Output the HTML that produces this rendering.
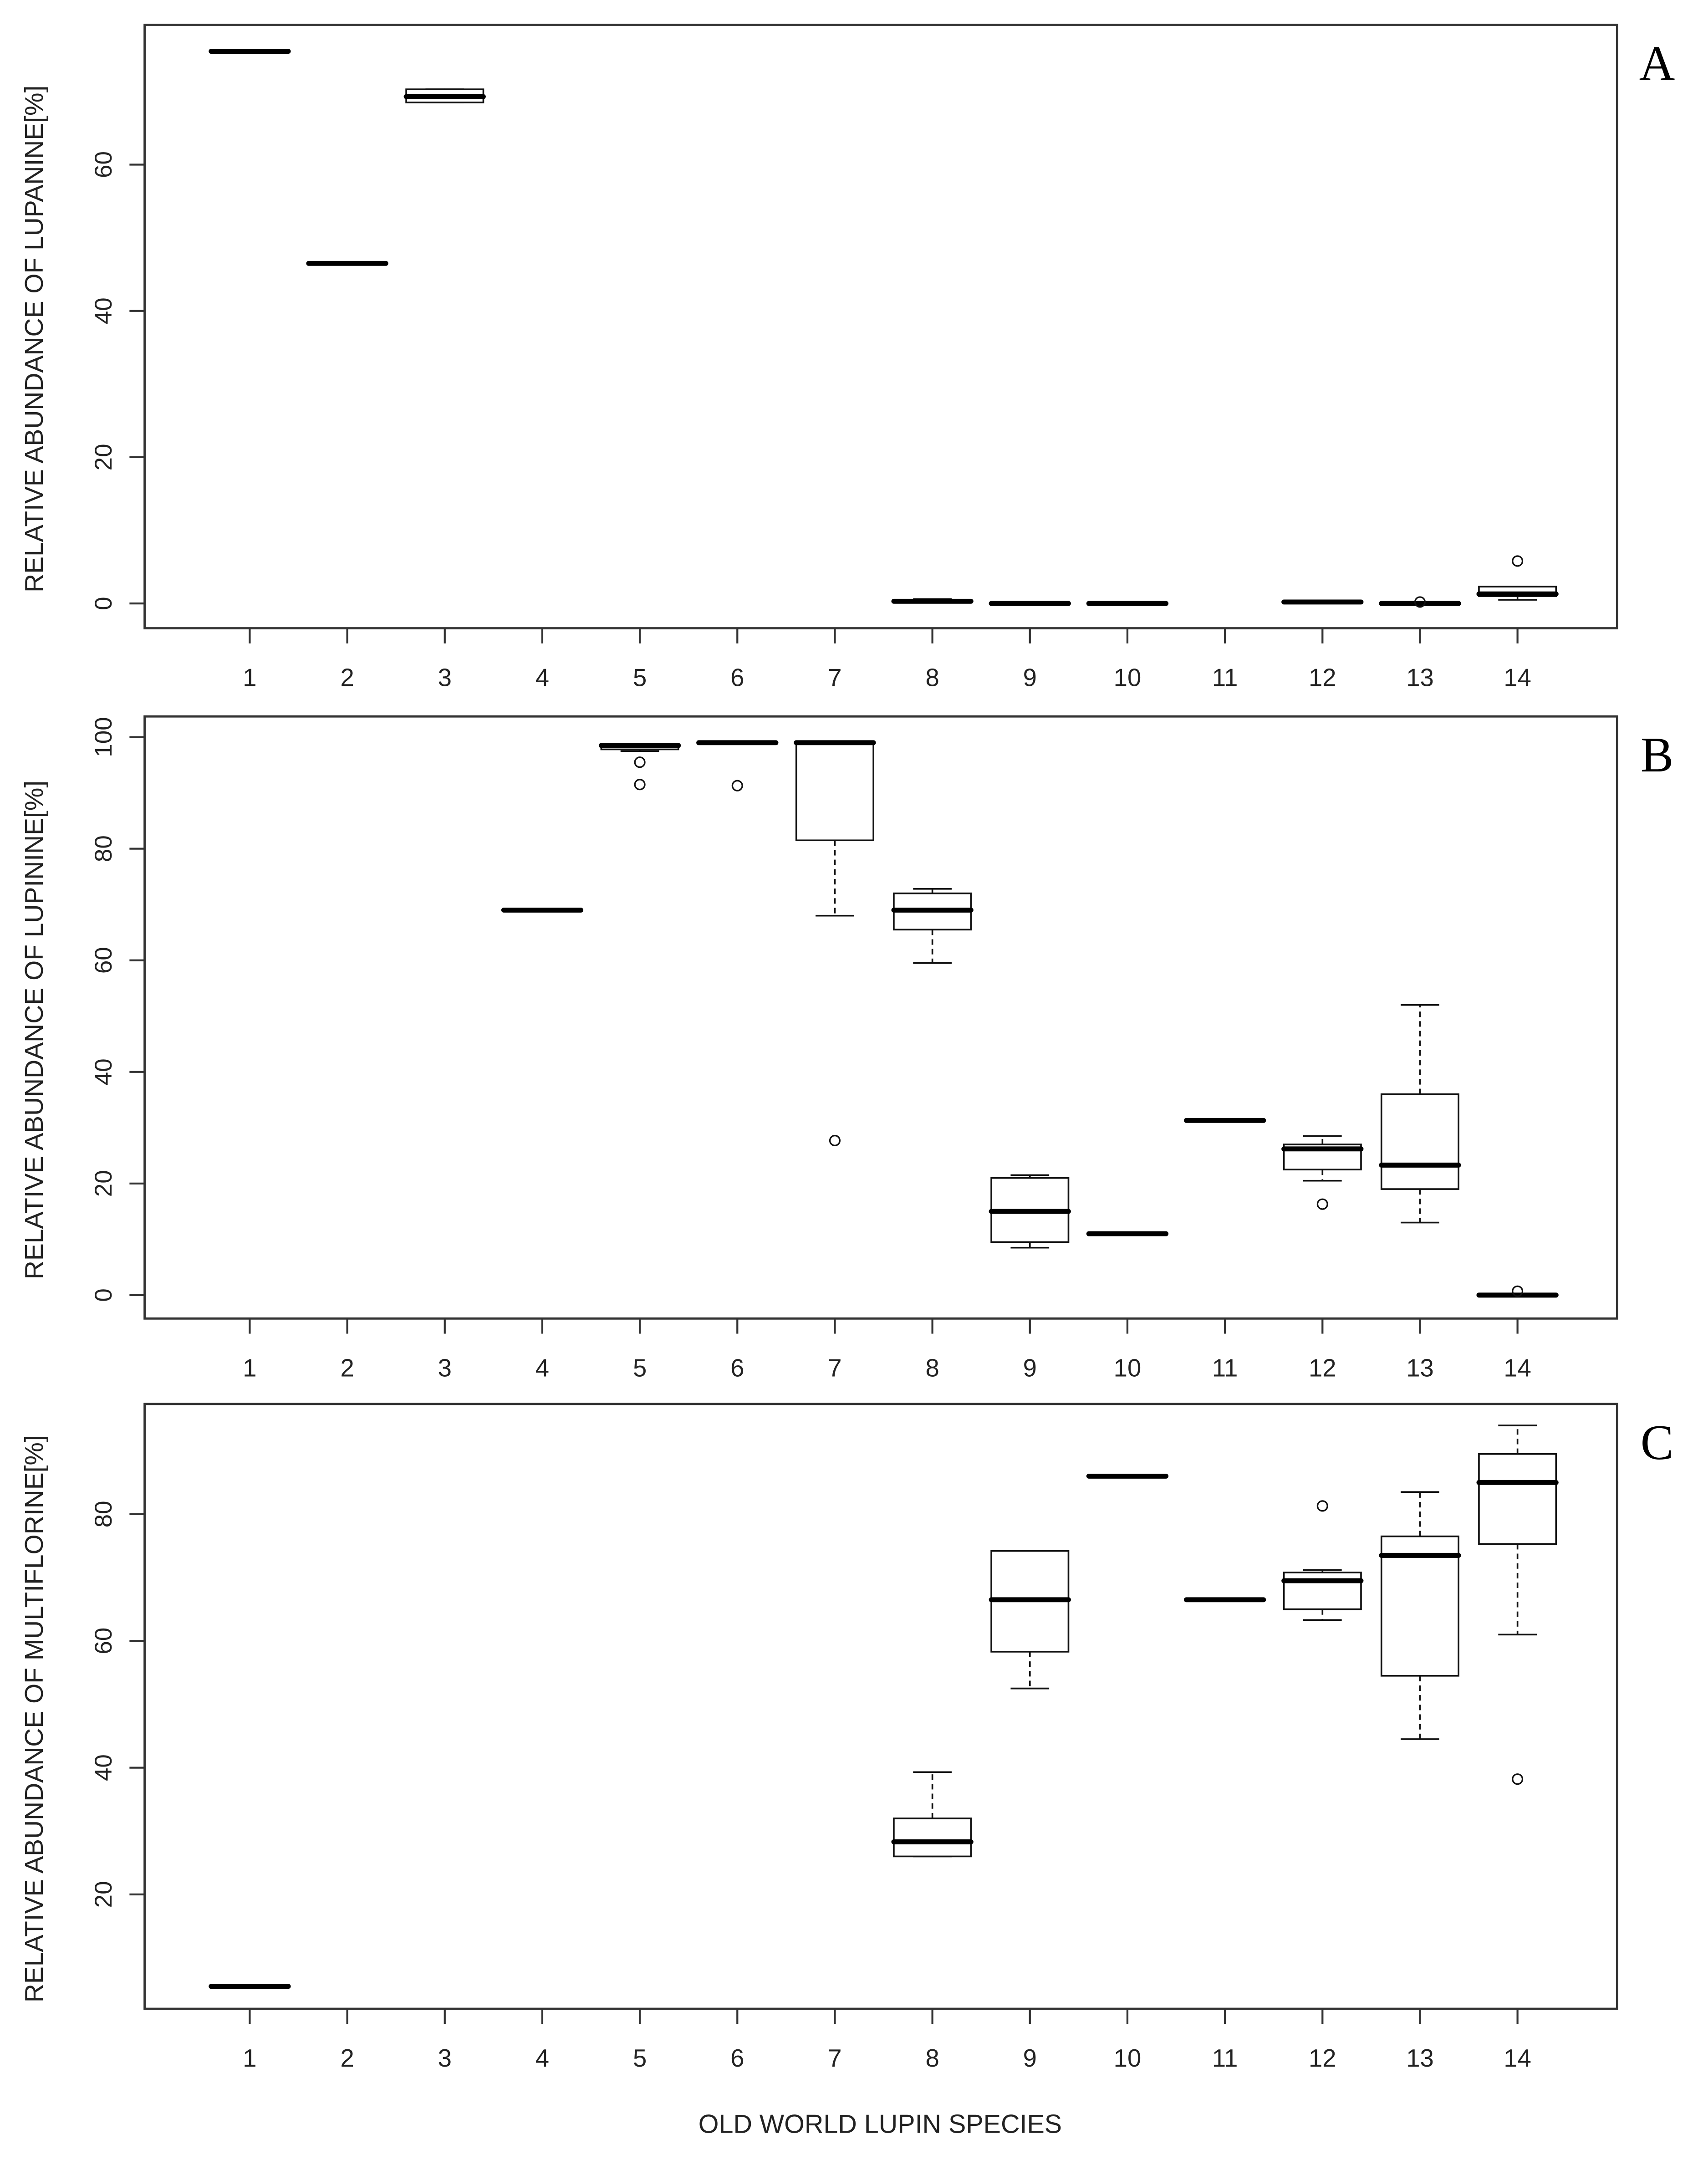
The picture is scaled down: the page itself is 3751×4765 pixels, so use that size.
<!DOCTYPE html>
<html><head><meta charset="utf-8"><style>
html,body{margin:0;padding:0;background:#fff;}
svg{display:block;}
text{font-family:"Liberation Sans",sans-serif;fill:#222;}
</style></head><body>
<svg id="chart" width="3751" height="4765" viewBox="0 0 1240 1575" preserveAspectRatio="none" xmlns="http://www.w3.org/2000/svg"></svg>
<script>
// Species categories
const categories = [1,2,3,4,5,6,7,8,9,10,11,12,13,14];
// Stats per species: [min, q1, median, q3, max] (null = absent)
const lupanineStats = [[75.5,75.5,75.5,75.5,75.5],[46.5,46.5,46.5,46.5,46.5],[68.5,68.5,69.3,70.3,70.3],null,null,null,null,[0.2,0.2,0.3,0.4,0.6],[0,0,0,0,0],[0,0,0,0,0],null,[0.2,0.2,0.2,0.3,0.3],[0,0,0,0,0],[0.5,1,1.3,2.3,2.3]];
const lupanineOutliers = [[],[],[],[],[],[],[],[],[],[],[],[],[0.2],[5.8]];
const lupinineStats = [null,null,null,[69,69,69,69,69],[97.5,97.8,98.5,98.8,98.8],[99,99,99,99,99],[68,81.5,99,99,99],[59.5,65.5,69,72,72.8],[8.5,9.5,15,21,21.5],[11,11,11,11,11],[31.3,31.3,31.3,31.3,31.3],[20.5,22.5,26.2,27,28.5],[13,19,23.3,36,52],[0,0,0,0,0]];
const lupinineOutliers = [[],[],[],[],[95.5,91.5],[91.3],[27.7],[],[],[],[],[16.3],[],[0.7]];
const multiStats = [[5.5,5.5,5.5,5.5,5.5],null,null,null,null,null,null,[26,26,28.3,32,39.3],[52.5,58.3,66.5,74.2,74.2],[86,86,86,86,86],[66.5,66.5,66.5,66.5,66.5],[63.3,65,69.5,70.8,71.2],[44.5,54.5,73.5,76.5,83.5],[61,75.3,85,89.5,94]];
const multiOutliers = [[],[],[],[],[],[],[],[],[],[],[],[81.3],[],[38.2]];
const ticksA = [0,20,40,60];
const ticksB = [0,20,40,60,80,100];
const ticksC = [20,40,60,80];

const NS = "http://www.w3.org/2000/svg";
const svg = document.getElementById('chart');
function mk(tag, attrs, parent){
  const e = document.createElementNS(NS, tag);
  for (const k in attrs) e.setAttribute(k, attrs[k]);
  (parent||svg).appendChild(e); return e;
}
const X0 = 105, X1 = 1174;
function xScale(c){ return 181.3 + (c-1)*70.8; }

function panel(cfg){
  const g = mk('g', {});
  
  
  const y = v => cfg.y0px + (v - cfg.v0) * (cfg.y1px - cfg.y0px) / (cfg.v1 - cfg.v0);
  const frame = mk('rect', {x:X0, y:cfg.top, width:X1-X0, height:cfg.bot-cfg.top, fill:'none', stroke:'#333', 'stroke-width':1.6}, g);
  
  
  cfg.ticks.forEach(t => {
    const yy = y(t);
    mk('line', {x1:X0-11, x2:X0, y1:yy, y2:yy, stroke:'#333', 'stroke-width':1.4}, g);
    const tx = mk('text', {x:0, y:0, 'font-size':17.5, 'text-anchor':'middle', transform:`translate(81,${yy}) rotate(-90)`}, g);
    tx.textContent = t;
    
    
  });
  categories.forEach(c => {
    const xx = xScale(c);
    mk('line', {x1:xx, x2:xx, y1:cfg.bot, y2:cfg.bot+11, stroke:'#333', 'stroke-width':1.4}, g);
    const tx = mk('text', {x:xx, y:cfg.bot+42, 'font-size':18, 'text-anchor':'middle'}, g);
    tx.textContent = c;
    
    
  });
  const mid = (cfg.top + cfg.bot)/2 + 9;
  const yt = mk('text', {x:0, y:0, 'font-size':18.8, 'text-anchor':'middle', transform:`translate(31,${mid}) rotate(-90)`}, g);
  yt.textContent = cfg.title;
  
  
  const lt = mk('text', {x:1203, y:cfg.top+40, 'font-size':36, 'text-anchor':'middle', style:'font-family:"Liberation Serif",serif;fill:#000'}, g);
  lt.textContent = cfg.letter;
  
  
  categories.forEach((c, i) => {
    const s = cfg.stats[i];
    const xx = xScale(c), hw = 28, cw = 14;
    if (s) {
      const b = mk('g', {}, g);
      
      
      const [mn,q1,md,q3,mx] = s;
      mk('line', {x1:xx, x2:xx, y1:y(q3), y2:y(mx), stroke:'#111', 'stroke-width':1.2, 'stroke-dasharray':'4,3'}, b);
      mk('line', {x1:xx, x2:xx, y1:y(q1), y2:y(mn), stroke:'#111', 'stroke-width':1.2, 'stroke-dasharray':'4,3'}, b);
      mk('line', {x1:xx-cw, x2:xx+cw, y1:y(mx), y2:y(mx), stroke:'#111', 'stroke-width':1.2}, b);
      mk('line', {x1:xx-cw, x2:xx+cw, y1:y(mn), y2:y(mn), stroke:'#111', 'stroke-width':1.2}, b);
      mk('rect', {x:xx-hw, y:y(q3), width:2*hw, height:Math.max(0.01, y(q1)-y(q3)), fill:'#fff', stroke:'#111', 'stroke-width':1.2}, b);
      mk('line', {x1:xx-hw, x2:xx+hw, y1:y(md), y2:y(md), stroke:'#000', 'stroke-width':3.6, 'stroke-linecap':'round'}, b);
    }
    cfg.outliers[i].forEach(o => {
      const ci = mk('circle', {cx:xx, cy:y(o), r:3.6, fill:'none', stroke:'#111', 'stroke-width':1.1}, g);
      
      
    });
  });
}

panel({letter:'A', top:18, bot:456, v0:0, v1:60, y0px:438, y1px:119.5, ticks:ticksA, stats:lupanineStats, outliers:lupanineOutliers, title:'RELATIVE ABUNDANCE OF LUPANINE[%]'});
panel({letter:'B', top:520, bot:957, v0:0, v1:100, y0px:940, y1px:535, ticks:ticksB, stats:lupinineStats, outliers:lupinineOutliers, title:'RELATIVE ABUNDANCE OF LUPININE[%]'});
panel({letter:'C', top:1019, bot:1458, v0:20, v1:80, y0px:1375, y1px:1099, ticks:ticksC, stats:multiStats, outliers:multiOutliers, title:'RELATIVE ABUNDANCE OF MULTIFLORINE[%]'});

const xt = mk('text', {x:639, y:1548, 'font-size':19, 'text-anchor':'middle'});
xt.textContent = 'OLD WORLD LUPIN SPECIES';


</script>
</body></html>
